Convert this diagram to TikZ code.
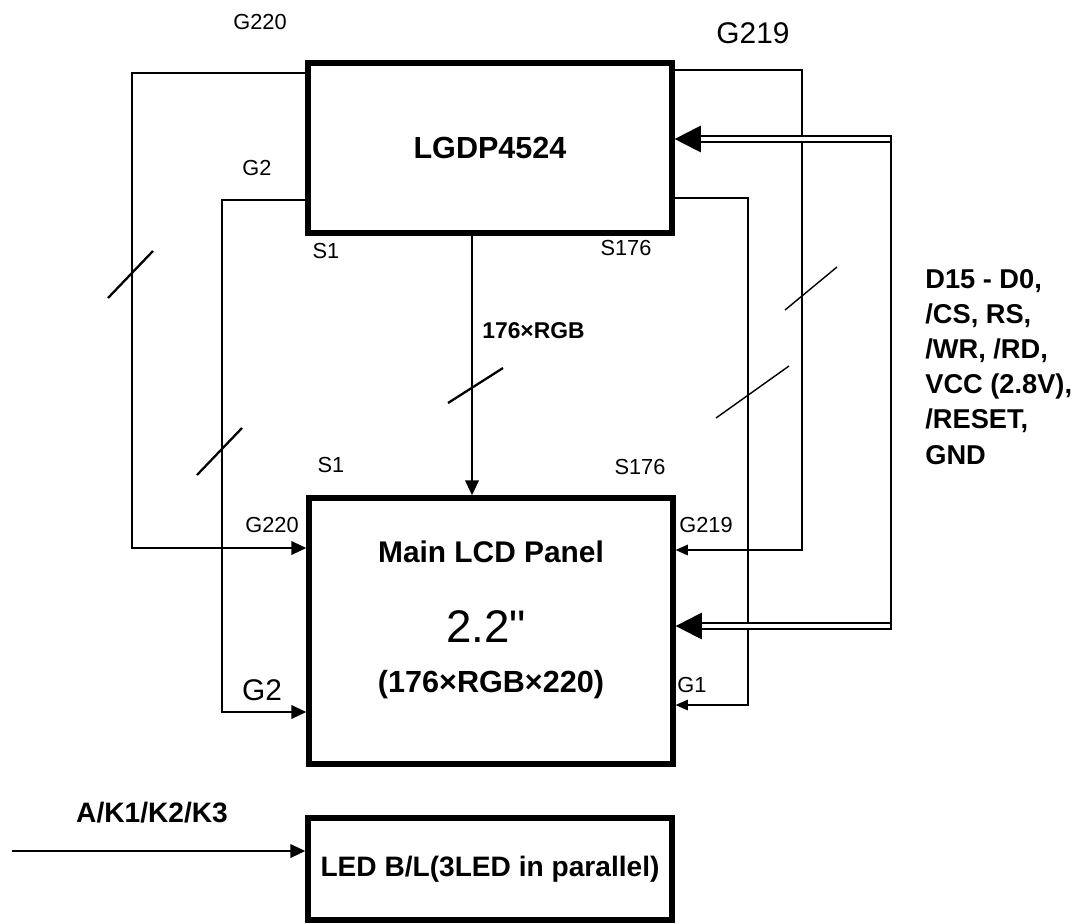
\documentclass[tikz,border=0pt]{standalone}
\usepackage{fontspec}
\setmainfont{Liberation Sans}
\newfontfamily\rawfont{Liberation Sans}
\usepackage{tikz}
\usetikzlibrary{arrows.meta,positioning}
\newcommand{\fsz}[1]{\fontsize{#1}{#1}\selectfont}

\begin{document}
\begin{tikzpicture}[x=0.02cm,y=-0.02cm,
  chip/.style={draw,line width=3pt,fill=white,minimum width=7.28cm,
               align=center,font=\bfseries\fsz{17.4}},
  wire/.style={line width=1.6pt},
  thinwire/.style={line width=0.8pt},
  arrow/.style={wire,-{Triangle[length=8.5pt,width=7.5pt]}},
  thinarrow/.style={thinwire,-{Triangle[length=7pt,width=6pt]}},
  bus/.style={double,double distance=2.3pt,line width=1.3pt,
              -{Triangle[length=15pt,width=15pt]}},
  busline/.style={line width=1.3pt},
  tick/.style={line width=1.3pt},
  pin/.style={font=\fsz{12.4}},
  bigpin/.style={font=\fsz{17}},
  every node/.style={inner sep=0pt}]

  \useasboundingbox (0,0) rectangle (1081,923);

  % Driver IC
  \node[chip,minimum height=3.4cm] (drv) at (490,148) {LGDP4524};

  % Main panel
  \node[chip,minimum height=5.32cm] (lcd) at (491,631) {};
  \node[font=\bfseries\fsz{17}] (lcdname) at (491,552) {Main LCD Panel};
  \node[font=\rawfont\fsz{26}] (lcdsize) at (486,627) {2.2"};
  \node[font=\bfseries\fsz{17.4}] (lcdres) at (491,685) {(176×RGB×220)};

  % Backlight
  \node[chip,minimum height=2.04cm,font=\bfseries\fsz{16}]
    (led) at (490,869) {LED B/L(3LED in parallel)};

  % Gate lines, left side
  \coordinate (gl1) at (132,73);
  \coordinate (gl1b) at (132,548);
  \draw[arrow] (gl1 -| drv.west) -- (gl1) -- (gl1b) -- (gl1b -| lcd.west);
  \coordinate (gl2) at (222,200);
  \coordinate (gl2b) at (222,712);
  \draw[arrow] (gl2 -| drv.west) -- (gl2) -- (gl2b) -- (gl2b -| lcd.west);

  % Gate lines, right side
  \coordinate (gr1) at (802,70);
  \coordinate (gr1b) at (802,550);
  \draw[thinarrow] (gr1 -| drv.east) -- (gr1) -- (gr1b) -- (gr1b -| lcd.east);
  \coordinate (gr2) at (748,198);
  \coordinate (gr2b) at (748,705);
  \draw[thinarrow] (gr2 -| drv.east) -- (gr2) -- (gr2b) -- (gr2b -| lcd.east);

  % Source lines
  \coordinate (rgb) at (472,0);
  \draw[arrow] (drv.south -| rgb) -- (lcd.north -| rgb);

  % System bus
  \coordinate (bustop) at (891,135);
  \coordinate (busbot) at (891,630);
  \draw[busline] (bustop) -- (busbot);
  \coordinate (busa) at (890,139);
  \coordinate (busb) at (890,626);
  \draw[bus] (busa) -- (busa -| drv.east);
  \draw[bus] (busb) -- (busb -| lcd.east);

  % Bus width marks
  \draw[tick] (108,298) -- (153,251);
  \draw[tick] (197,475) -- (242,428);
  \draw[tick] (448,403) -- (503,368);
  \draw[thinwire] (785,310) -- (837,267);
  \draw[thinwire] (716,418) -- (789,366);

  % Pin labels
  \node[pin] (lg220) at (260,22) {G220};
  \node[bigpin] (lg219) at (753,33) {G219};
  \node[pin] (lg2) at (257,168) {G2};
  \node[pin] (ls1) at (326,251) {S1};
  \node[pin] (ls176) at (626,248) {S176};
  \node[anchor=west,font=\bfseries\fsz{13}] (lrgb) at (482,331) {176×RGB};
  \node[pin] (ls1b) at (331,465) {S1};
  \node[pin] (ls176b) at (640,467) {S176};
  \node[pin] (lg220b) at (272,525) {G220};
  \node[bigpin] (lg2b) at (262,690) {G2};
  \node[pin] (lg219b) at (706,525) {G219};
  \node[pin] (lg1) at (692,685) {G1};

  % Bus signals
  \node[anchor=north west,align=left,font=\bfseries\fontsize{15.5}{20}\selectfont]
    (buslbl) at (925,269)
    {D15 - D0,\\/CS, RS,\\/WR, /RD,\\VCC (2.8V),\\/RESET,\\GND};

  % Backlight input
  \coordinate (blin) at (12,851);
  \draw[arrow] (blin) -- (blin -| led.west);
  \node[font=\bfseries\fsz{16}] (lblk) at (152,813) {A/K1/K2/K3};

\end{tikzpicture}
\end{document}
